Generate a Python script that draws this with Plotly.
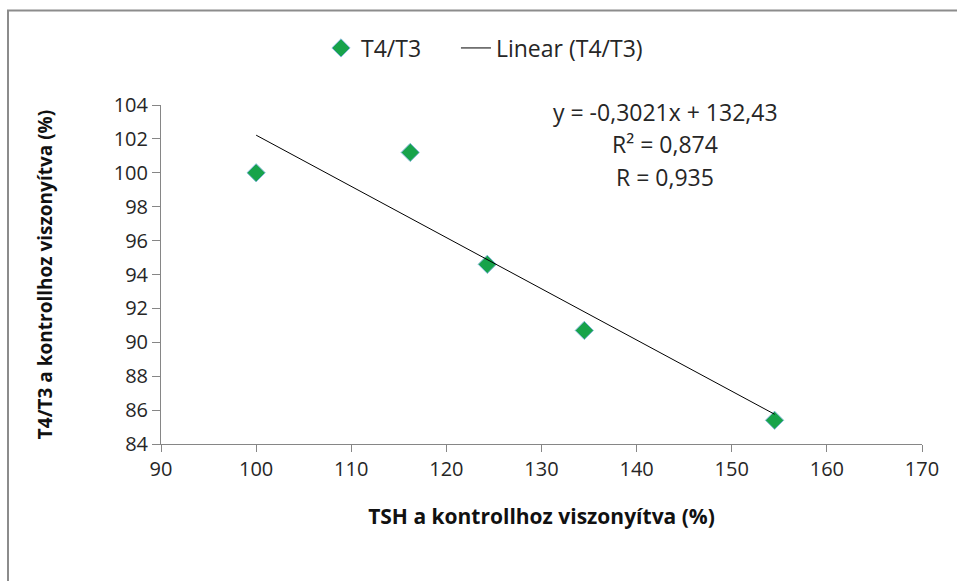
import numpy as np
import plotly.graph_objects as go

# data
tsh = [100.0, 116.2, 124.3, 134.5, 154.5]
t4_t3 = [100.0, 101.2, 94.6, 90.7, 85.4]

# trendline as printed on the chart
slope = -0.3021
intercept = 132.43
eq_lines = ["y = -0,3021x + 132,43", "R² = 0,874", "R = 0,935"]

x_ticks = [90, 100, 110, 120, 130, 140, 150, 160, 170]
y_ticks = [84, 86, 88, 90, 92, 94, 96, 98, 100, 102, 104]

W, H = 957, 581
ML, MR, MT, MB = 161, 35, 105, 137

font = "'Open Sans', sans-serif"
txt_col = "#262626"

fig = go.Figure()

fig.add_trace(
    go.Scatter(
        x=tsh,
        y=t4_t3,
        mode="markers",
        name="T4/T3" + "\u00a0" * 5,  # padding before the next legend item
        marker=dict(
            symbol="diamond",
            size=14,
            color="#17a34a",
            line=dict(color="#7fb6d6", width=1),
        ),
    )
)

# linear trend over the data range
x_fit = np.array([min(tsh), max(tsh)])
fig.add_trace(
    go.Scatter(
        x=x_fit,
        y=slope * x_fit + intercept,
        mode="lines",
        name="Linear (T4/T3)",
        line=dict(color="black", width=1),
    )
)

# equation text block
for txt, yy in zip(eq_lines, [103.57, 101.7, 99.75]):
    fig.add_annotation(
        x=143.0, y=yy, xref="x", yref="y", text=txt, showarrow=False,
        font=dict(size=23, color=txt_col, family=font),
        xanchor="center", yanchor="middle",
    )

# outer frame (top and left edges only visible)
pw = W - ML - MR
ph = H - MT - MB
fig.add_shape(type="rect", xref="paper", yref="paper",
              x0=(8 - ML) / pw, x1=(W + 10 - ML) / pw,
              y0=(-MB - 10) / ph, y1=(H - MB - 10.5) / ph,
              line=dict(color="#8c8c8c", width=2), layer="below")

axis_common = dict(
    showgrid=False,
    zeroline=False,
    showline=True,
    linecolor="#868686",
    linewidth=1,
    ticks="outside",
    tickcolor="#868686",
    tickfont=dict(size=20, color=txt_col, family=font),
)

fig.update_xaxes(
    range=[90, 170],
    tickvals=x_ticks,
    ticklen=7,
    title=dict(text="<b>TSH a kontrollhoz viszonyítva (%)</b>",
               font=dict(size=21, color="#111111", family=font), standoff=28),
    **axis_common,
)
fig.update_yaxes(
    range=[84, 104],
    tickvals=y_ticks,
    ticklen=8,
    title=dict(text="<b>T4/T3 a kontrollhoz viszonyítva (%)</b>",
               font=dict(size=19, color="#111111", family=font), standoff=56),
    **axis_common,
)

fig.update_layout(
    width=W,
    height=H,
    margin=dict(l=ML, r=MR, t=MT, b=MB),
    plot_bgcolor="white",
    paper_bgcolor="white",
    showlegend=True,
    legend=dict(
        orientation="h",
        x=(321 - ML) / pw, xanchor="left",
        y=(H - MB - 48) / ph, yanchor="middle",
        font=dict(size=23, color=txt_col, family=font),
        bgcolor="rgba(0,0,0,0)",
    ),
)

fig.write_html("out.html", config={"displayModeBar": False},
               post_script="document.body.style.margin='0';")
